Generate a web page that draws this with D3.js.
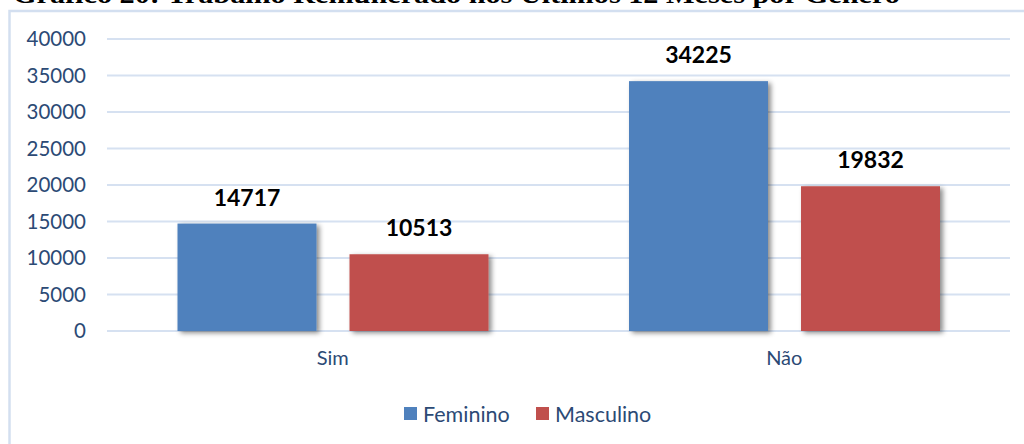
<!DOCTYPE html>
<html>
<head>
<meta charset="utf-8">
<script src="https://cdn.jsdelivr.net/npm/d3@7"></script>
<style>
  body { margin: 0; background: #fff; }
  svg { display: block; }
</style>
</head>
<body>
<svg width="1024" height="444"></svg>
<script>
var categories = ["Sim", "Não"];
var series = ["Feminino", "Masculino"];
var feminino = [14717, 34225];
var masculino = [10513, 19832];
var yTicks = [0, 5000, 10000, 15000, 20000, 25000, 30000, 35000, 40000];
var colors = ["#4f81bd", "#c0504d"];
var title = "Gráfico 20: Trabalho Remunerado nos Últimos 12 Meses por Gênero";

var svg = d3.select("svg"),
    width = +svg.attr("width"),
    height = +svg.attr("height");

var font = "Lato, 'Noto Sans', sans-serif";
var axisColor = "#2c4a75";

// drop shadow like the office chart
var defs = svg.append("defs");
var f = defs.append("filter").attr("id", "shadow")
  .attr("x", "-10%").attr("y", "-10%").attr("width", "130%").attr("height", "130%");
f.append("feDropShadow")
  .attr("dx", 3).attr("dy", 2).attr("stdDeviation", 2.5)
  .attr("flood-color", "#000").attr("flood-opacity", 0.45);

// title, cut off at top like the source
svg.append("text")
  .attr("x", 13).attr("y", 3)
  .attr("font-family", "'Liberation Serif', 'DejaVu Serif', serif")
  .attr("font-size", 26).attr("font-weight", "bold")
  .attr("textLength", 887).attr("lengthAdjust", "spacingAndGlyphs")
  .attr("fill", "#000")
  .text(title);

// chart frame
svg.append("rect")
  .attr("x", 9.5).attr("y", 11)
  .attr("width", 1100).attr("height", 600)
  .attr("fill", "none")
  .attr("stroke", "#d3dff0").attr("stroke-width", 2.5);

var y = d3.scaleLinear().domain([0, 40000]).range([331, 39]);
var x0 = d3.scaleBand().domain(categories).range([107, 1010]);
var x1 = d3.scaleBand().domain(series).range([70.5, 381.5]).paddingInner(0.192);

// gridlines
svg.append("g")
  .selectAll("line")
  .data(yTicks)
  .enter().append("line")
    .attr("x1", 107).attr("x2", 1010)
    .attr("y1", function(d) { return y(d); })
    .attr("y2", function(d) { return y(d); })
    .attr("stroke", "#d6e1f1").attr("stroke-width", 2);

// y axis labels
var yAxis = svg.append("g")
  .attr("transform", "translate(86,0)")
  .call(d3.axisLeft(y).tickValues(yTicks).tickSize(0).tickPadding(0).tickFormat(d3.format("d")));
yAxis.select(".domain").remove();
yAxis.selectAll("text")
  .attr("font-family", font).attr("font-size", 20.5)
  .attr("fill", axisColor);

// x axis labels
var xAxis = svg.append("g")
  .attr("transform", "translate(0,350)")
  .call(d3.axisBottom(x0).tickSize(0).tickPadding(0));
xAxis.select(".domain").remove();
xAxis.selectAll("text")
  .attr("font-family", font).attr("font-size", 20)
  .attr("fill", axisColor).attr("dy", "0.75em");

var rows = categories.map(function(c, i) {
  return { cat: c, values: [feminino[i], masculino[i]] };
});

var groups = svg.append("g")
  .selectAll("g")
  .data(rows)
  .enter().append("g")
    .attr("transform", function(d) { return "translate(" + x0(d.cat) + ",0)"; });

groups.selectAll("rect")
  .data(function(d) { return d.values.map(function(v, j) { return { s: series[j], v: v, j: j }; }); })
  .enter().append("rect")
    .attr("x", function(d) { return x1(d.s); })
    .attr("y", function(d) { return y(d.v); })
    .attr("width", x1.bandwidth())
    .attr("height", function(d) { return y(0) - y(d.v); })
    .attr("fill", function(d) { return colors[d.j]; })
    .attr("filter", "url(#shadow)");

groups.selectAll("text.val")
  .data(function(d) { return d.values.map(function(v, j) { return { s: series[j], v: v }; }); })
  .enter().append("text")
    .attr("class", "val")
    .attr("x", function(d) { return x1(d.s) + x1.bandwidth() / 2; })
    .attr("y", function(d) { return y(d.v) - 18; })
    .attr("text-anchor", "middle")
    .attr("font-family", font).attr("font-size", 23).attr("font-weight", "bold")
    .attr("fill", "#000")
    .text(function(d) { return d.v; });

// legend
var legendX = [404, 536];
var legend = svg.append("g")
  .selectAll("g")
  .data(series)
  .enter().append("g")
    .attr("transform", function(d, i) { return "translate(" + legendX[i] + ",407)"; });
legend.append("rect")
  .attr("width", 13).attr("height", 13)
  .attr("fill", function(d, i) { return colors[i]; });
legend.append("text")
  .attr("x", 19).attr("y", 7)
  .attr("dy", "0.35em")
  .attr("font-family", font).attr("font-size", 21.5)
  .attr("fill", axisColor)
  .text(function(d) { return d; });
</script>
</body>
</html>
